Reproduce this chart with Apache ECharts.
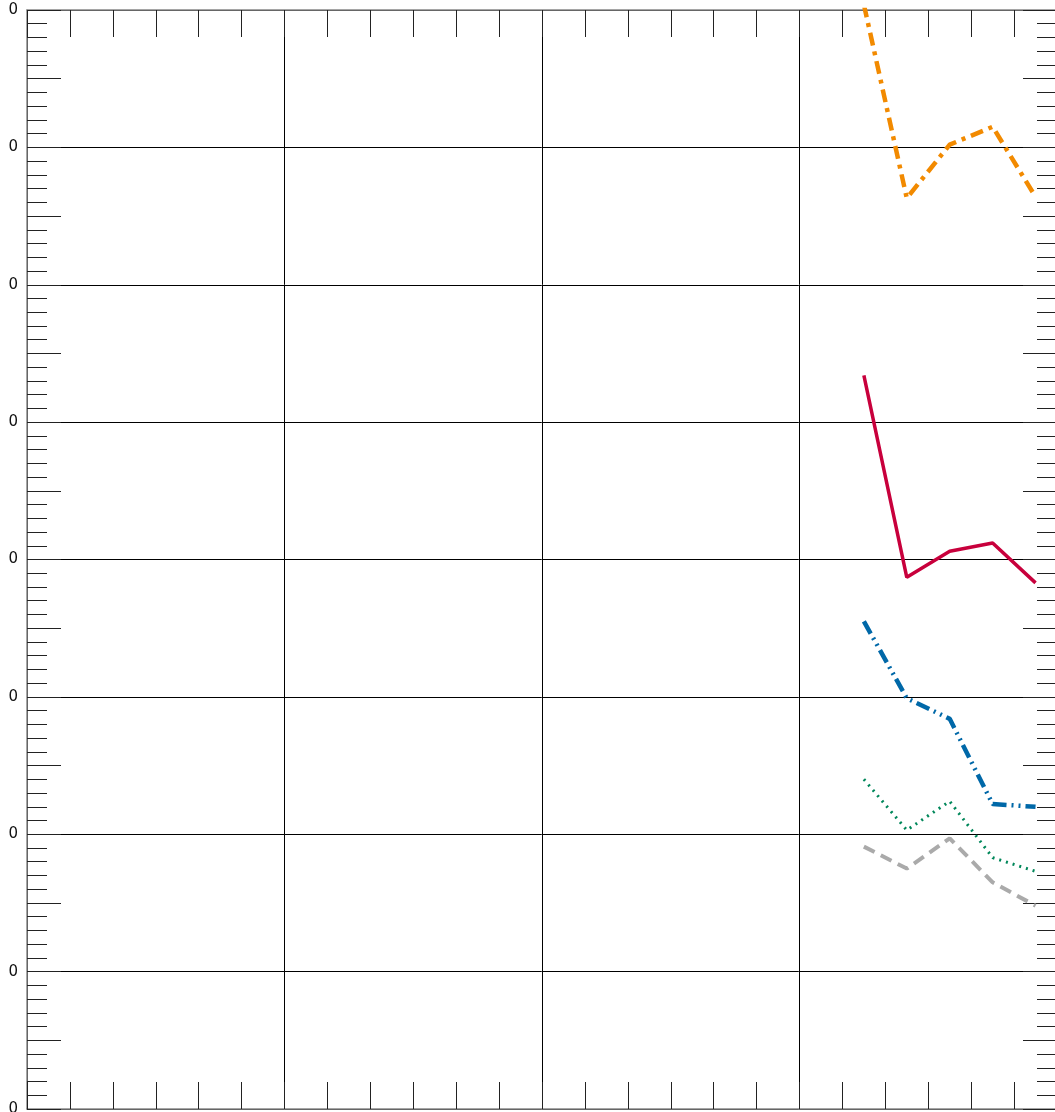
<!DOCTYPE html>
<html>
<head>
<meta charset="utf-8">
<script src="https://cdn.jsdelivr.net/npm/echarts@6/dist/echarts.min.js"></script>
<style>
  html, body { margin: 0; padding: 0; background: #fff; }
  #chart { width: 1055px; height: 1112px; }
</style>
</head>
<body>
<div id="chart"></div>
<script>
// x positions of the observations (category centres on a 0–24 scale)
const periods = [19.5, 20.5, 21.5, 22.5, 23.5];
// series values
const orangeSeries = [8040, 6630, 7020, 7150, 6640];
const redSeries    = [5340, 3870, 4060, 4120, 3830];
const blueSeries   = [3550, 2990, 2840, 2220, 2200];
const greenSeries  = [2400, 2030, 2240, 1830, 1730];
const graySeries   = [1910, 1750, 1970, 1650, 1480];
// y tick labels as printed in the picture (bottom to top)
const yTickLabels = ['0', '0', '0', '0', '0', '0', '0', '0', '0'];
// axis ranges
const yMin = 0, yMax = 8000, yStep = 1000;
const xMin = 0, xMax = 24, xStep = 6;

function pairs(vals) { return periods.map((p, i) => [p, vals[i]]); }

const chart = echarts.init(document.getElementById('chart'), null, { renderer: 'canvas' });

const xBase = (pos) => ({
  type: 'value', position: pos, min: xMin, max: xMax, interval: xStep,
  axisLine: { show: true, onZero: false, lineStyle: { color: '#888', width: 1.5 } },
  axisTick: { show: true, inside: true, length: 27, lineStyle: { color: '#222', width: 1 } },
  minorTick: { show: true, splitNumber: 6, length: 27, lineStyle: { color: '#222', width: 1 } },
  axisLabel: { show: false },
  splitLine: { show: pos === 'bottom', lineStyle: { color: '#000', width: 1 } },
  minorSplitLine: { show: false }
});

const yMain = (pos) => ({
  type: 'value', position: pos, offset: 0, min: yMin, max: yMax, interval: yStep,
  axisLine: { show: true, onZero: false, lineStyle: { color: '#888', width: 1.5 } },
  axisTick: { show: true, inside: true, length: 20, lineStyle: { color: '#222', width: 1 } },
  minorTick: { show: true, splitNumber: 10, length: 20, lineStyle: { color: '#222', width: 1 } },
  axisLabel: {
    show: pos === 'left', fontSize: 15, color: '#111', margin: 9,
    padding: [3, 0, 0, 0],
    fontFamily: 'DejaVu Sans, sans-serif',
    formatter: (v) => {
      const i = Math.round((v - yMin) / yStep);
      return yTickLabels[i] !== undefined ? yTickLabels[i] : '';
    }
  },
  splitLine: { show: pos === 'left', lineStyle: { color: '#000', width: 1 } }
});

const yMid = (pos) => ({
  type: 'value', position: pos, offset: 0, min: yMin, max: yMax, interval: yStep / 2,
  axisLine: { show: false, onZero: false },
  axisTick: { show: true, inside: true, length: 34, lineStyle: { color: '#222', width: 1 } },
  axisLabel: { show: false },
  splitLine: { show: false }
});

const mk = (name, vals, color, width, dash) => ({
  name, type: 'line', xAxisIndex: 0, yAxisIndex: 0,
  data: pairs(vals), symbol: 'none', clip: true,
  lineStyle: { color, width, type: dash, cap: 'butt' }
});

chart.setOption({
  animation: false,
  backgroundColor: '#fff',
  grid: { left: 27, right: -2, top: 10, bottom: 3, containLabel: false, outerBoundsMode: 'none' },
  xAxis: [xBase('bottom'), xBase('top')],
  yAxis: [yMain('left'), yMain('right'), yMid('left'), yMid('right')],
  series: [
    mk('orange', orangeSeries, '#F28A00', 4.5, [13, 6, 4, 6]),
    mk('red', redSeries, '#C8003C', 3.5, 'solid'),
    mk('blue', blueSeries, '#0068A8', 4.5, [14, 5, 2, 5, 2, 5]),
    mk('green', greenSeries, '#00875A', 3, [2, 5]),
    mk('gray', graySeries, '#AAAAAA', 4, [12, 7])
  ]
});
</script>
</body>
</html>
